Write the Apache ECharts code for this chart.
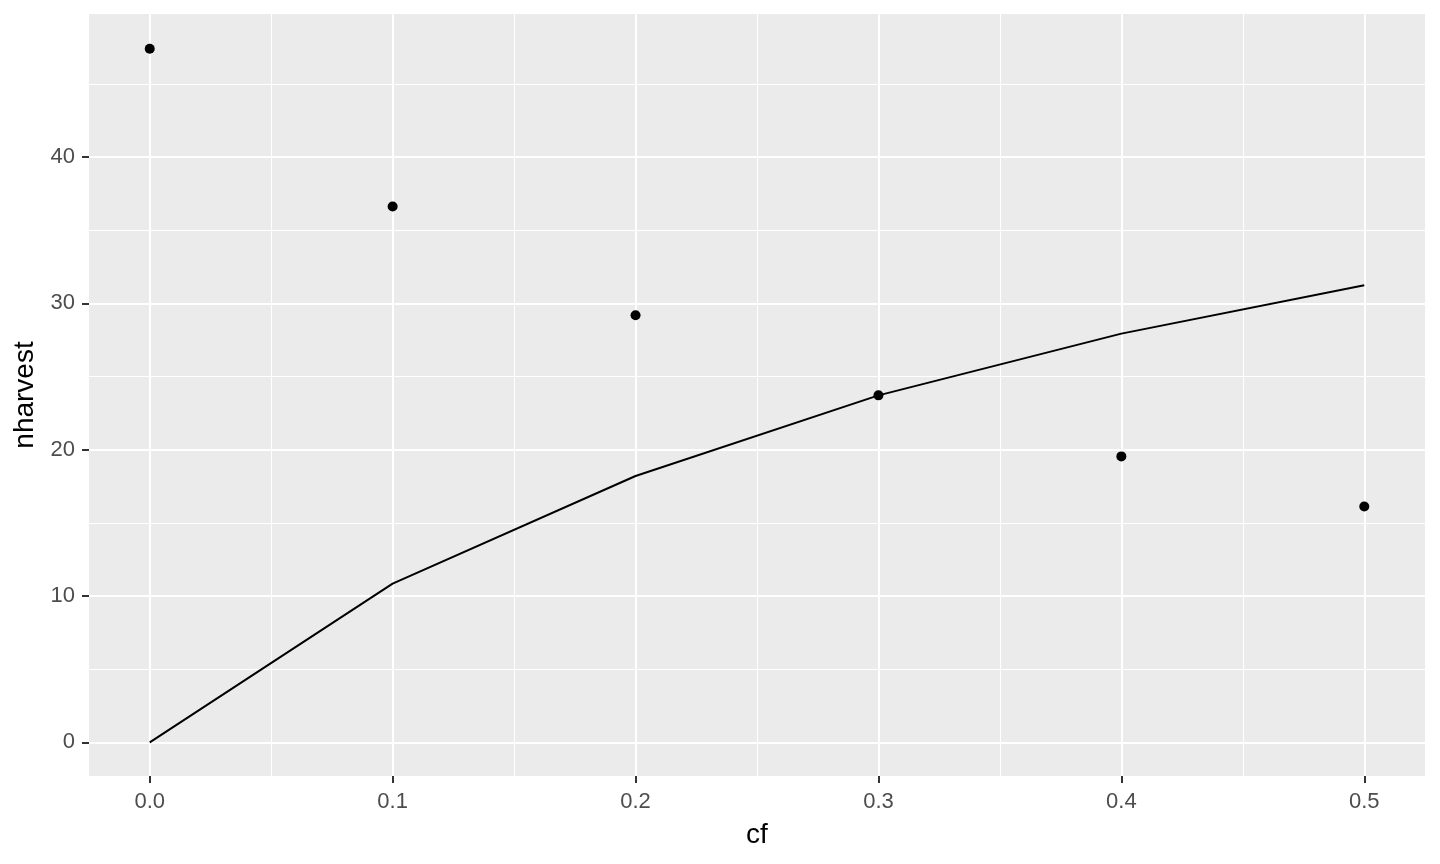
<!DOCTYPE html>
<html>
<head>
<meta charset="utf-8">
<script src="https://cdn.jsdelivr.net/npm/echarts@6/dist/echarts.min.js"></script>
<style>
html,body{margin:0;padding:0;background:#fff;}
#chart{width:1440px;height:864px;}
</style>
</head>
<body>
<div id="chart"></div>
<script>
const cf = [0.0, 0.1, 0.2, 0.3, 0.4, 0.5];
const pointValues = [47.4, 36.62, 29.18, 23.71, 19.54, 16.12];
const lineValues = [0, 10.84, 18.2, 23.71, 27.93, 31.23];
const xMajorTicks = [0, 0.1, 0.2, 0.3, 0.4, 0.5];
const xMinorTicks = [0.05, 0.15, 0.25, 0.35, 0.45];
const yMajorTicks = [0, 10, 20, 30, 40];
const yMinorTicks = [5, 15, 25, 35, 45];

const chart = echarts.init(document.getElementById('chart'));
const labelStyle = { color: '#4D4D4D', fontSize: 22, fontFamily: 'Liberation Sans, Arial, sans-serif' };

const gridLines = [];
xMinorTicks.forEach(v => gridLines.push({ xAxis: v, lineStyle: { color: '#FFFFFF', width: 1, type: 'solid' } }));
yMinorTicks.forEach(v => gridLines.push({ yAxis: v, lineStyle: { color: '#FFFFFF', width: 1, type: 'solid' } }));
xMajorTicks.forEach(v => gridLines.push({ xAxis: v, lineStyle: { color: '#FFFFFF', width: 2, type: 'solid' } }));
yMajorTicks.forEach(v => gridLines.push({ yAxis: v, lineStyle: { color: '#FFFFFF', width: 2, type: 'solid' } }));

chart.setOption({
  animation: false,
  backgroundColor: '#FFFFFF',
  grid: { left: 89, right: 15, top: 14, bottom: 88, show: true, backgroundColor: '#EBEBEB', borderWidth: 0 },
  xAxis: {
    type: 'value', min: -0.025, max: 0.525,
    name: 'cf', nameLocation: 'middle', nameGap: 45,
    nameTextStyle: { color: '#000000', fontSize: 28, fontFamily: 'Liberation Sans, Arial, sans-serif' },
    axisLine: { show: true, onZero: false, lineStyle: { color: 'rgba(0,0,0,0)', width: 0 } },
    axisTick: { show: true, length: 7, customValues: xMajorTicks, lineStyle: { color: '#333333', width: 2 } },
    axisLabel: Object.assign({ customValues: xMajorTicks, margin: 15, formatter: v => v.toFixed(1) }, labelStyle),
    splitLine: { show: false }
  },
  yAxis: {
    type: 'value', min: -2.3, max: 49.77,
    name: 'nharvest', nameLocation: 'middle', nameGap: 48, nameRotate: 90,
    nameTextStyle: { color: '#000000', fontSize: 28, fontFamily: 'Liberation Sans, Arial, sans-serif' },
    axisLine: { show: true, onZero: false, lineStyle: { color: 'rgba(0,0,0,0)', width: 0 } },
    axisTick: { show: true, length: 7, customValues: yMajorTicks, lineStyle: { color: '#333333', width: 2 } },
    axisLabel: Object.assign({ customValues: yMajorTicks, margin: 14, formatter: v => String(v) }, labelStyle),
    splitLine: { show: false }
  },
  series: [
    {
      type: 'line', data: [], z: 0, silent: true,
      markLine: { z: 0, zlevel: 0, silent: true, symbol: ['none', 'none'], label: { show: false }, animation: false, data: gridLines }
    },
    {
      type: 'line', z: 3, data: cf.map((x, i) => [x, lineValues[i]]),
      showSymbol: false, symbol: 'none', lineStyle: { color: '#000000', width: 2 }
    },
    {
      type: 'scatter', z: 4, data: cf.map((x, i) => [x, pointValues[i]]),
      symbolSize: 10, itemStyle: { color: '#000000', opacity: 1 }
    }
  ]
});
</script>
</body>
</html>
